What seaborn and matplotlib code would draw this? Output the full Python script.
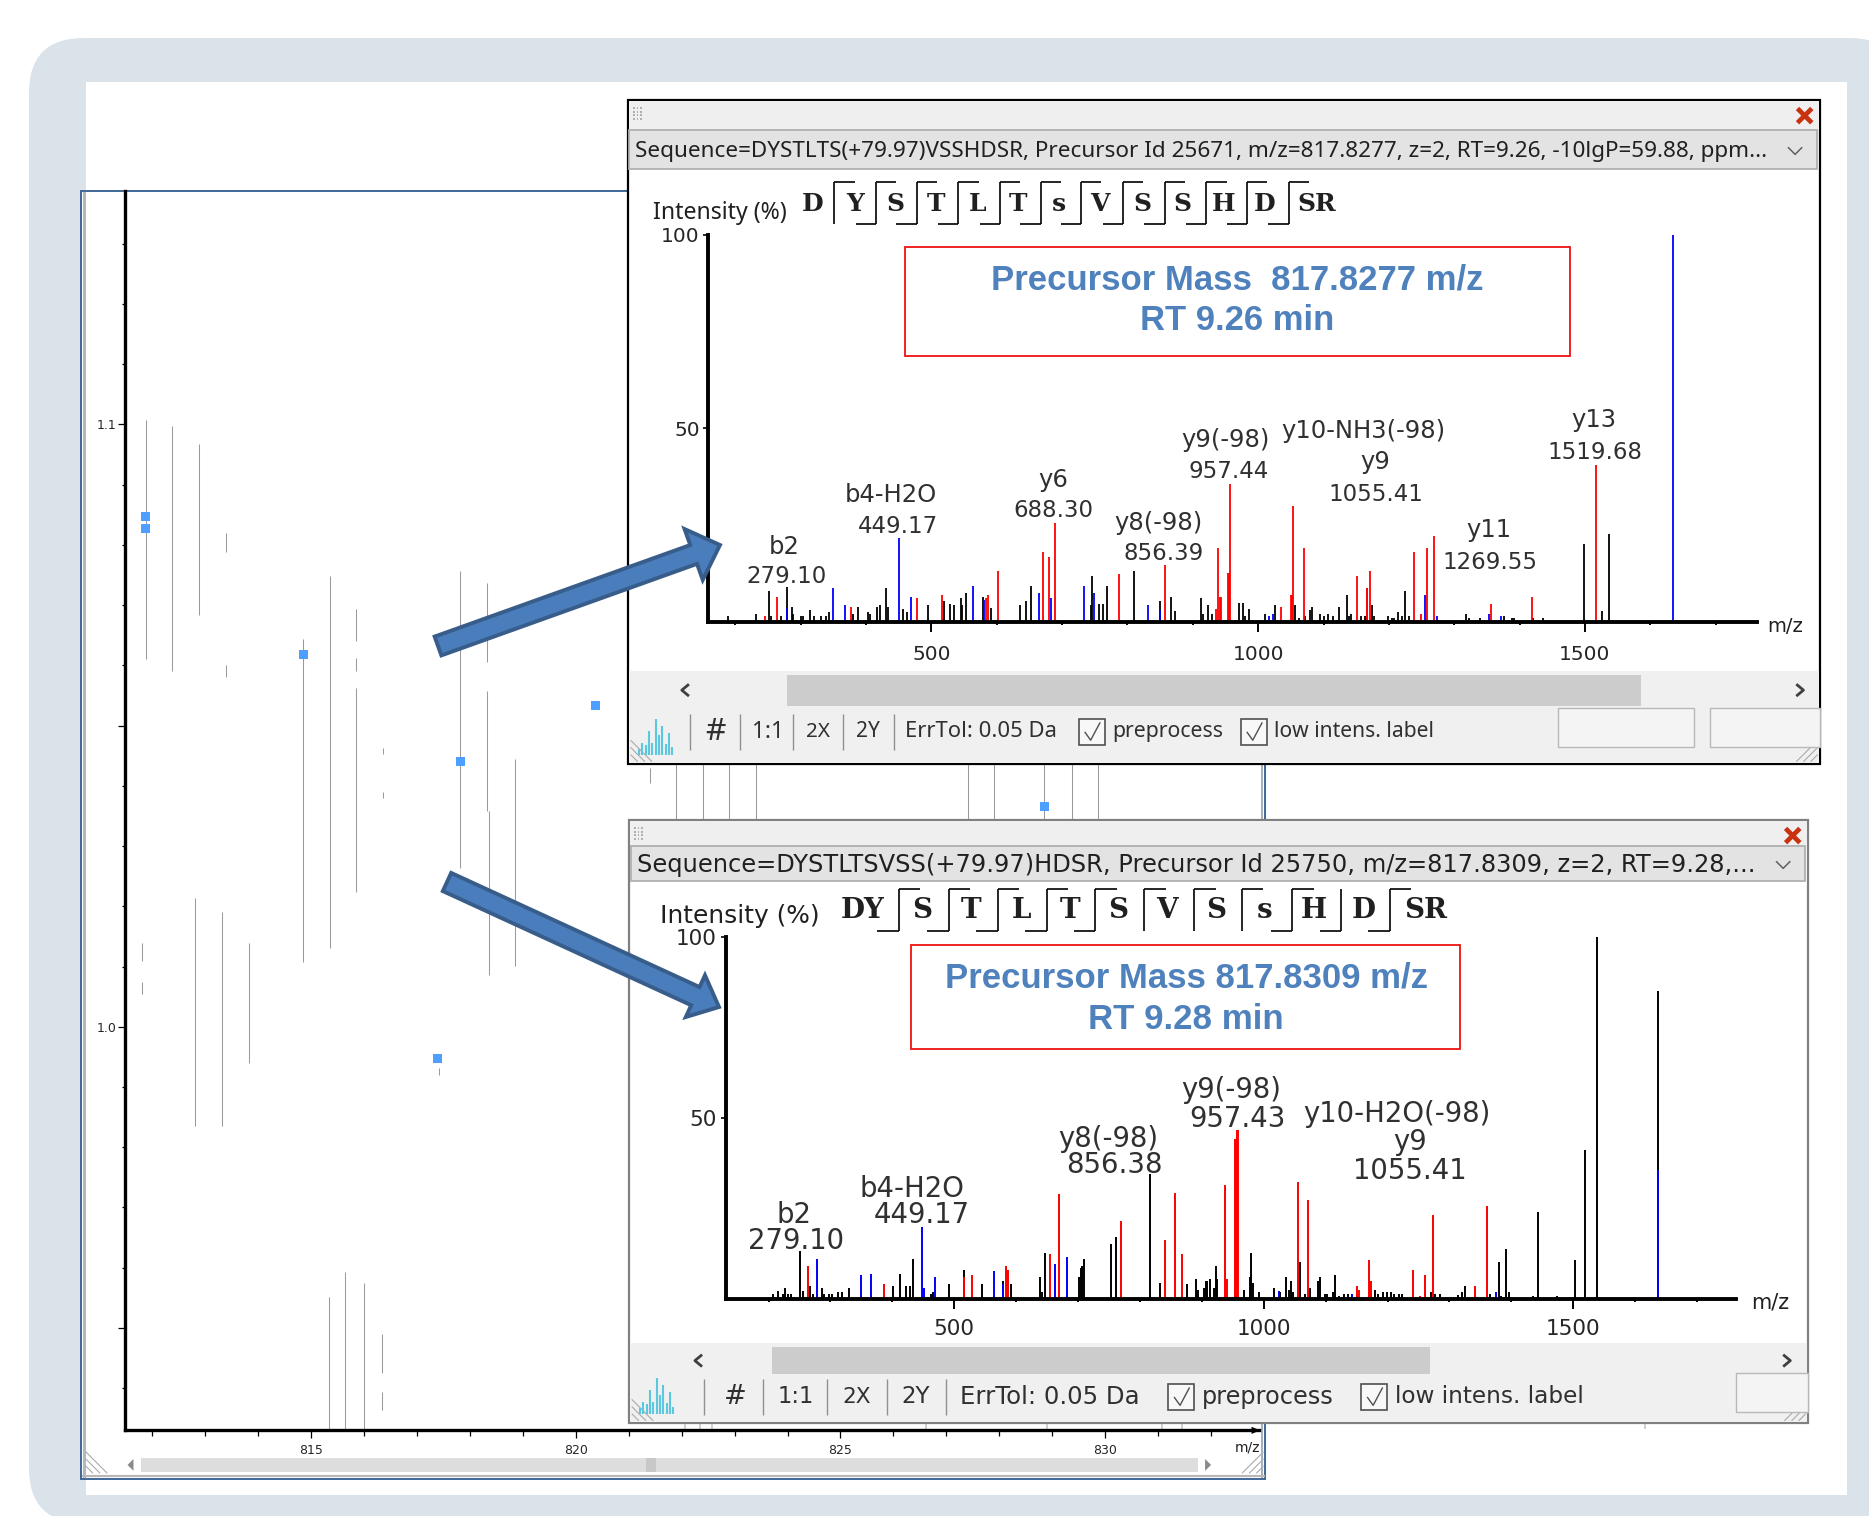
import matplotlib
matplotlib.use("Agg")
import matplotlib.pyplot as plt
from matplotlib.patches import FancyBboxPatch, FancyArrow, Polygon, Rectangle
import seaborn as sns

W, H = 1869, 1516
K = W / 1568  # layout below was measured on a 1568 wide view

# LC-MS map, segments and MS/MS squares
map_mz = [811.88, 812.38, 812.89, 813.39, 813.39, 814.85, 815.36, 815.85, 815.85, 815.85, 816.36, 816.36,
          817.82, 818.32, 818.32, 818.36, 818.86, 811.81, 811.81, 812.81, 813.32, 813.82, 817.42,
          815.34, 815.65, 816.0, 816.34, 816.34, 821.4, 821.9, 822.4, 822.9, 823.4,
          827.4, 827.9, 828.85, 829.37, 829.87]
map_k_high = [1.1008, 1.0997, 1.0967, 1.082, 1.06, 1.0643, 1.0748, 1.0694, 1.0612, 1.0562, 1.0463, 1.039,
              1.0757, 1.0737, 1.0558, 1.0359, 1.0444, 1.0139, 1.0074, 1.0213, 1.0191, 1.0139, 0.9932,
              0.9552, 0.9593, 0.9575, 0.949, 0.9393, 1.0430, 1.0437, 1.0437, 1.0437, 1.0437,
              1.0437, 1.0437, 1.0437, 1.0437, 1.0437]
map_k_low = [1.0611, 1.059, 1.0684, 1.0789, 1.058, 1.0108, 1.013, 1.0640, 1.0590, 1.0224, 1.0453, 1.038,
             1.0264, 1.0606, 1.0359, 1.0086, 1.0101, 1.011, 1.0055, 0.9836, 0.9836, 0.994, 0.992,
             0.933, 0.933, 0.933, 0.9425, 0.9363, 1.0405, 1.0340, 1.0340, 1.0340, 1.0340,
             1.0340, 1.0340, 1.0340, 1.0340, 1.0340]
ms2_mz = [811.88, 811.88, 814.85, 817.82, 820.38, 817.39, 828.85]
ms2_k = [1.0847, 1.0828, 1.0618, 1.044, 1.0533, 0.9947, 1.0365]

# upper spectrum
top_black_mz = [188.5, 232, 251.4, 254, 269.4, 279.8, 286, 289, 300, 303, 313.7, 320.8, 330.6, 338, 344, 380, 387,
                403, 406, 417, 421, 431, 434, 456, 462, 494.5, 519, 528.4, 535, 544.8, 547, 553.6, 579, 591,
                636, 645, 652, 743.5, 746.4, 756, 763, 768.3, 809.8, 850, 866, 872.7, 913, 916, 923, 929,
                970, 976.5, 980, 986, 1010, 1025, 1057, 1063, 1072, 1079, 1082, 1095, 1101, 1107, 1114, 1123,
                1135.5, 1139, 1142, 1158, 1164, 1173.8, 1177, 1198, 1204, 1208, 1214, 1220, 1224, 1230,
                1318.6, 1322, 1340, 1376, 1388, 1391, 1420, 1435.5, 1498.4, 1526.8, 1536]
top_black_h = [1.5, 2, 8, 1.5, 1.5, 9, 3.7, 2, 1.5, 1.5, 3, 1.5, 1.5, 1.5, 2.5, 2, 3.7,
               2.5, 2, 3.7, 4.3, 8.6, 3.7, 3.2, 2.5, 4.2, 5.4, 4.7, 4.2, 6, 4.2, 7.5, 6.5, 3.5,
               4.2, 5.4, 9.2, 4.2, 11.9, 4.7, 4.7, 9.2, 13, 5.4, 6.5, 2.7, 6, 2, 4.2, 2,
               4.9, 4.9, 1.5, 3.2, 2, 4.2, 4.2, 1, 1.5, 3, 3.7, 2, 1.5, 2, 1.5, 3.7,
               7, 1.5, 2, 1.5, 1.5, 4.2, 1.5, 1.5, 1, 1, 2.5, 1.5, 8, 1.5,
               2, 1, 1, 1.5, 1, 1, 1, 1, 20, 2.7, 22.8]
top_red_mz = [245, 264, 377.6, 478, 516.4, 583, 586, 601.6, 670.5, 680, 689.6, 787.4, 856.8, 935.5, 938.3,
              941.5, 942.5, 954, 955, 957.4, 1035, 1050, 1051, 1053.6, 1069.4, 1151.4, 1166, 1167, 1170.5,
              1239, 1249, 1258.5, 1268.3, 1356, 1419.7, 1517.5]
top_red_h = [1.5, 6.5, 3.7, 6, 6.9, 6, 7, 13, 18, 16.8, 25.4, 12.4, 14.6, 3.2, 19,
             6.5, 6.5, 12.5, 12.5, 35.6, 3.7, 6.9, 6.9, 29.8, 19, 11.9, 8.6, 8.6, 13,
             18, 2, 19, 22.2, 4.7, 6.5, 40.5]
top_blue_mz = [279.8, 349, 368.3, 450.3, 469, 563.4, 580, 664, 683.6, 733.9, 749, 831.7, 850,
               1016, 1023, 1255.7, 1274, 1353, 1372, 1634]
top_blue_h = [3.5, 8.6, 4.3, 21.7, 6.5, 9.2, 5.5, 7.5, 6, 9.2, 7.5, 4.2, 3,
              1.5, 2, 7, 1.5, 2, 1.5, 100]
top_labels = [("b2", 658, 457), ("279.10", 660, 482), ("b4-H2O", 747, 414), ("449.17", 753, 440),
              ("y6", 884, 401), ("688.30", 884, 427), ("y9(-98)", 1028, 368), ("957.44", 1031, 394),
              ("y10-NH3(-98)", 1144, 360), ("y9", 1154, 386), ("1055.41", 1154, 413), ("y8(-98)", 972, 437),
              ("856.39", 976, 463), ("y11", 1249, 443), ("1269.55", 1250, 470), ("y13", 1337, 351),
              ("1519.68", 1338, 378)]

# lower spectrum
bot_black_mz = [207, 215.5, 224, 227, 231, 237, 251.3, 255, 267, 272, 286.5, 290, 298, 303, 312, 318, 329.8,
                401, 413, 421.5, 429, 433, 462, 466, 492, 515.6, 544, 579, 591.7, 638.5, 642, 646.6,
                701.4, 705.4, 707, 708.9, 753.3, 760.8, 816.8, 832.4, 875.7, 891, 894, 903, 906, 909, 913,
                920, 923, 925, 953, 968, 978, 980, 983, 992.5, 1016, 1027, 1036, 1043.6, 1040, 1048,
                1059, 1067, 1075, 1088, 1091, 1099, 1103, 1112, 1115, 1122, 1130, 1136, 1180, 1185, 1192,
                1199, 1206, 1211, 1219, 1224, 1270, 1276, 1284, 1314, 1320, 1324.7, 1365, 1379.6, 1384, 1392,
                1396, 1435, 1443, 1474, 1502.4, 1518.6, 1538, 1637]
bot_black_h = [1.2, 2, 1.4, 2.9, 1.4, 1.2, 13.2, 2, 3.4, 1.4, 2.9, 1.4, 1.4, 1.4, 1.8, 1.8, 2.9,
               3.4, 6.9, 3.4, 3.4, 11, 1.4, 1.8, 3.9, 8, 3.9, 4.8, 3.9, 6, 1.8, 12.6,
               6, 8.5, 9, 11, 15.2, 16.9, 34.4, 4.4, 3.9, 5.4, 2.3, 2.9, 4.9, 4.9, 5.4,
               2.9, 9, 5.5, 2.3, 2.3, 6, 12.6, 4.4, 1.8, 2.9, 1.8, 6, 4.9, 2.3, 1.8,
               10.1, 1.4, 2.9, 4.9, 6, 1.4, 1.4, 1.8, 6.5, 0.8, 1.2, 1.2, 2.3, 1.2, 1.8,
               1.8, 1.8, 1.4, 1.4, 1.2, 1.8, 1.2, 1.2, 1, 1.8, 3.4, 1.4, 10.1, 0.8, 13.7,
               1.8, 0.8, 24, 0.8, 10.6, 41.2, 100, 85]
bot_red_mz = [263.4, 385.7, 515.6, 528, 583, 585.5, 586.6, 654, 669.6, 769.5, 840.5, 856, 867.6, 938, 940.8,
              954.2, 955, 957, 958, 1056, 1055, 1071.6, 1150, 1154, 1170.7, 1172, 1174, 1241.8, 1253, 1261, 1273,
              1341, 1360]
bot_red_h = [9, 3.9, 6, 6.5, 9, 8, 8, 12.2, 28.8, 21.5, 16.3, 29.2, 12.2, 31.3, 5.5,
             44, 44, 46.5, 46.5, 32.3, 7, 27.2, 3.4, 2.3, 10.6, 5, 4.9, 8, 0.8, 6.5, 23,
             3.4, 25.6]
bot_blue_mz = [279, 349.4, 365.5, 448.6, 451, 469, 564, 579, 662, 681.8, 1024, 1143, 1376, 1637]
bot_blue_h = [11, 6.5, 6.9, 19.8, 2.9, 6, 7.5, 4, 9.5, 11.6, 2, 1.2, 1.8, 35.5]
bot_labels = [("b2", 666, 1018), ("279.10", 668, 1040), ("b4-H2O", 765, 996), ("449.17", 773, 1018),
              ("y8(-98)", 930, 954), ("856.38", 935, 976), ("y9(-98)", 1033, 913), ("957.43", 1038, 937),
              ("y10-H2O(-98)", 1172, 933), ("y9", 1183, 957), ("1055.41", 1183, 981)]

# fragment ladders
top_letters = ["D", "Y", "S", "T", "L", "T", "s", "V", "S", "S", "H", "D", "SR"]
top_letter_x = [682, 717, 751, 785, 820, 854, 888, 923, 958, 992, 1027, 1061, 1105]
top_cuts = [700, 735, 769, 804, 839, 873, 907, 942, 977, 1012, 1046, 1081]
bot_letters = ["DY", "S", "T", "L", "T", "S", "V", "S", "s", "H", "D", "SR"]
bot_letter_x = [724, 774, 815, 857, 898, 938, 979, 1020, 1061, 1102, 1144, 1196]
bot_cuts = [754, 796, 837, 878, 919, 960, 1002, 1042, 1084, 1125, 1166]
bot_no_top = [1125]
bot_no_low = [960, 1002, 1042]

icon_heights = [5, 10, 8, 20, 10, 30, 16, 24, 9, 18, 6]
under_marks = [575, 587, 597, 777, 878, 975, 992, 1380]

sns.set_theme(style="white")
plt.rcParams["font.family"] = ["DejaVu Sans"]
UI = "Noto Sans"
SERIF = "DejaVu Serif"
BLUE_TXT = "#4F81BD"
PEAKS = sns.color_palette(["#000000", "#FF0000", "#0000FF"])

fig = plt.figure(figsize=(W / 100, H / 100), dpi=100, facecolor="white")
renderer = fig.canvas.get_renderer()


def overlay(z):
    ax = fig.add_axes([0, 0, 1, 1], zorder=z)
    ax.set_xlim(0, W)
    ax.set_ylim(H, 0)
    ax.axis("off")
    ax.patch.set_alpha(0)
    return ax


def data_axes(l, t, r, b, z):
    return fig.add_axes([l / W, 1 - b / H, (r - l) / W, (b - t) / H], zorder=z, facecolor="none")


def put(ax, x, y, s, width=None, size=12, ha="center", family=None, **kw):
    # width is in view pixels, font size gets scaled to hit it
    t = ax.text(x * K, (y + 1.5) * K, s, ha=ha, va="center", fontsize=size, family=family or "DejaVu Sans", **kw)
    if width:
        w = t.get_window_extent(renderer).width
        t.set_fontsize(size * width * K / w)
    return t


def box(ax, x0, y0, x1, y1, fc="none", ec="none", lw=1.0, z=1):
    ax.add_patch(Rectangle((x0 * K, y0 * K), (x1 - x0) * K, (y1 - y0) * K, fc=fc, ec=ec, lw=lw, zorder=z))


def line(ax, xs, ys, color="black", lw=1.0, z=3):
    ax.plot([v * K for v in xs], [v * K for v in ys], color=color, lw=lw, zorder=z, solid_capstyle="butt")


def grip(ax, x, y, n=3, color="#AAAAAA", flip=False):
    for i in range(n):
        d = 6 + i * 6
        if flip:
            line(ax, [x - d, x], [y, y - d], color=color, lw=0.8)
        else:
            line(ax, [x, x + d], [y - d, y], color=color, lw=0.8)


def window(ax, x0, y0, x1, y1, edge, title, title_w, bar, toolbar, buttons, family):
    box(ax, x0, y0, x1, y1, fc="white", ec=edge, lw=1.6, z=1)
    box(ax, x0 + 1, y0 + 1, x1 - 1, bar[0], fc="#EFEFEF", z=2)
    box(ax, x0 + 1, bar[0], x1 - 3, bar[1], fc="#E3E3E3", ec="#B0B0B0", lw=1.3, z=2)
    put(ax, x0 + 6, (bar[0] + bar[1]) / 2, title, width=title_w, size=13, ha="left", family=family, color="#202020", zorder=4)
    for i in range(4):
        for j in range(3):
            box(ax, x0 + 4 + j * 3, y0 + 6 + i * 3, x0 + 5.5 + j * 3, y0 + 7.5 + i * 3, fc="#B0B0B0", z=3)
    # red close cross
    cx, cy = x1 - 13, y0 + 13
    line(ax, [cx - 6, cx + 6], [cy - 6, cy + 6], color="#C8320F", lw=3.4)
    line(ax, [cx - 6, cx + 6], [cy + 6, cy - 6], color="#C8320F", lw=3.4)
    # combo chevron
    mx, my = x1 - 21, (bar[0] + bar[1]) / 2 + 1
    line(ax, [mx - 6, mx, mx + 6], [my - 3, my + 3, my - 3], color="#606060", lw=1.1, z=4)
    # scroll strip and toolbar
    sy0, sy1, tx0, tx1 = toolbar["scroll"]
    box(ax, x0 + 1, sy0 - 3, x1 - 1, y1 - 1, fc="#F0F0F0", z=2)
    box(ax, tx0, sy0, tx1, sy1, fc="#CCCCCC", z=3)
    my = (sy0 + sy1) / 2
    line(ax, [toolbar["left"] + 3, toolbar["left"] - 3, toolbar["left"] + 3], [my - 5, my, my + 5], color="#404040", lw=2.0, z=4)
    line(ax, [toolbar["right"] - 3, toolbar["right"] + 3, toolbar["right"] - 3], [my - 5, my, my + 5], color="#404040", lw=2.0, z=4)
    ty = toolbar["y"]
    for sx in toolbar["seps"]:
        line(ax, [sx, sx], [ty - 15, ty + 15], color="#909090", lw=1.0, z=4)
    for s, cx_, w in toolbar["items"]:
        put(ax, cx_, ty - 1.5, s, width=w, size=12, family=family, color="#303030", zorder=4)
    for bx, w, s in toolbar["checks"]:
        box(ax, bx, ty - 11, bx + 22, ty + 11, fc="#F8F8F8", ec="#505050", lw=1.2, z=4)
        line(ax, [bx + 5, bx + 10, bx + 18], [ty, ty + 7, ty - 8], color="#505050", lw=1.0, z=5)
        put(ax, bx + 28, ty - 1.5, s, width=w, size=12, ha="left", family=family, color="#303030", zorder=4)
    for b0, b1 in buttons:
        box(ax, b0, ty - 20, b1, ty + 13, fc="#F4F4F4", ec="#B8B8B8", lw=1.0, z=4)
    base = y1 - 8
    ix = x0 + 9
    for i, h in enumerate(icon_heights):
        line(ax, [ix + i * 2.8, ix + i * 2.8], [base, base - h], color="#5CC8E0", lw=1.5, z=4)
    grip(ax, x0 + 2, y1 - 2, n=3)
    grip(ax, x1 - 2, y1 - 2, n=3, flip=True)


def spectrum(rect, xlim, black, red, blue, lw, label_size, xpad, ypad):
    ax = data_axes(*rect, z=3)
    for (xs, ys), c in zip([black, red, blue], PEAKS):
        ax.vlines(xs, 0, ys, color=c, lw=lw, clip_on=False, zorder=2)
    ax.set_xlim(*xlim)
    ax.set_ylim(0, 100)
    ax.set_xticks([500, 1000, 1500])
    ax.set_xticks(list(range(200, 1800, 100)), minor=True)
    ax.set_yticks([50, 100])
    ax.tick_params(axis="x", which="major", length=7.5, width=1.4, pad=xpad, labelsize=label_size, bottom=True, color="black")
    ax.tick_params(axis="x", which="minor", length=2.5, width=1.4, bottom=True, color="black")
    ax.tick_params(axis="y", length=3.5, width=1.2, pad=ypad, labelsize=label_size, left=True, color="black")
    sns.despine(ax=ax)
    for side in ("left", "bottom"):
        ax.spines[side].set_linewidth(2.8)
        ax.spines[side].set_color("black")
    ax.grid(False)
    return ax


def ladder(ax, letters, letter_x, cuts, y, y0, y1, width, no_top=(), no_low=(), first_low=True, fs=20):
    for s, x in zip(letters, letter_x):
        put(ax, x, y, s, size=fs, family=SERIF, fontweight="bold", color="#202020", zorder=4)
    for i, x in enumerate(cuts):
        line(ax, [x, x], [y0, y1], lw=1.2, z=4)
        if x not in no_top:
            line(ax, [x, x + width], [y0, y0], lw=1.2, z=4)
        if x not in no_low and (first_low or i > 0):
            line(ax, [x - width, x], [y1, y1], lw=1.2, z=4)


# background panel
back = overlay(0)
back.add_patch(FancyBboxPatch((29, 38), 1904 - 29, 1523 - 38, boxstyle="round,pad=0,rounding_size=55", fc="#DAE2EA", ec="none"))
back.add_patch(Rectangle((86, 82), 1847 - 86, 1495 - 82, fc="white", ec="none", zorder=2))
# LC-MS window frame
box(back, 68, 160, 1061, 1241, fc="white", ec="#3F6797", lw=1.4, z=3)
box(back, 69.5, 161, 72, 1240, fc="#B0B8C0", z=4)
box(back, 1058, 161, 1060, 1240, fc="#A8B0B8", z=4)
box(back, 118, 1223, 1005, 1235, fc="#DDDDDD", z=4)
box(back, 542, 1223, 550, 1235, fc="#C8C8C8", z=4)
back.add_patch(Polygon([(112 * K, 1224 * K), (107 * K, 1229 * K), (112 * K, 1234 * K)], fc="#8A8A8A", ec="none", zorder=5))
back.add_patch(Polygon([(1011 * K, 1224 * K), (1016 * K, 1229 * K), (1011 * K, 1234 * K)], fc="#8A8A8A", ec="none", zorder=5))
back.add_patch(Polygon([(1050 * K, 1197 * K), (1057 * K, 1200 * K), (1050 * K, 1203 * K)], fc="black", ec="none", zorder=6))
line(back, [69, 1061], [1238.5, 1238.5], color="#B8B8B8", lw=1.6, z=4)
grip(back, 72, 1236, n=3)
grip(back, 1060, 1236, n=3, flip=True)
put(back, 1047, 1213, "m/z", size=10, color="#202020", zorder=6)

# LC-MS map
lc = data_axes(105 * K, 160 * K, 1056 * K, 1200 * K, z=1)
lc.vlines(map_mz, map_k_low, map_k_high, color="#9A9A9A", lw=0.75)
sns.scatterplot(x=ms2_mz, y=ms2_k, marker="s", s=42, color="#4DA0FF", edgecolor="none", ax=lc, zorder=3)
lc.set_xlim(811.49, 832.9)
lc.set_ylim(0.933, 1.1388)
lc.set_xticks([815, 820, 825, 830])
lc.set_xticks(list(range(812, 833)), minor=True)
lc.set_yticks([0.95, 1.0, 1.05, 1.1], ["", "1.0", "", "1.1"])
lc.set_yticks([0.94 + i * 0.01 for i in range(20)], minor=True)
lc.tick_params(axis="x", which="major", length=6, width=0.9, pad=4, labelsize=9, bottom=True, color="black")
lc.tick_params(axis="x", which="minor", length=4, width=0.9, bottom=True, color="black")
lc.tick_params(axis="y", which="major", length=5, width=0.9, pad=1, labelsize=9, left=True, color="black")
lc.tick_params(axis="y", which="minor", length=2, width=0.9, left=True, color="black")
sns.despine(ax=lc)
for side in ("left", "bottom"):
    lc.spines[side].set_linewidth(2.4)
    lc.spines[side].set_color("black")
lc.grid(False)

# spectrum windows
chrome = overlay(2)
window(chrome, 527, 84, 1527, 641, "black",
       "Sequence=DYSTLTS(+79.97)VSSHDSR, Precursor Id 25671, m/z=817.8277, z=2, RT=9.26, -10lgP=59.88, ppm...", 951,
       (109, 142),
       {"scroll": (566, 592, 660, 1377), "left": 575, "right": 1510, "y": 614,
        "seps": [579, 621, 665, 707, 750],
        "items": [("#", 600, 17), ("1:1", 644, 27), ("2X", 686, 20), ("2Y", 728, 20), ("ErrTol: 0.05 Da", 823, 127)],
        "checks": [(905, 93, "preprocess"), (1041, 134, "low intens. label")]},
       [(1307, 1421), (1435, 1527)], UI)
window(chrome, 528, 688, 1517, 1194, "#808080",
       "Sequence=DYSTLTSVSS(+79.97)HDSR, Precursor Id 25750, m/z=817.8309, z=2, RT=9.28,...", 934,
       (710, 739),
       {"scroll": (1130, 1153, 648, 1200), "left": 586, "right": 1499, "y": 1172,
        "seps": [591, 640, 694, 744, 794],
        "items": [("#", 617, 19), ("1:1", 668, 31), ("2X", 719, 24), ("2Y", 768, 24), ("ErrTol: 0.05 Da", 881, 150)],
        "checks": [(980, 110, "preprocess"), (1142, 158, "low intens. label")]},
       [(1456, 1517)], "DejaVu Sans")
for ux in under_marks:
    line(back, [ux, ux], [1195, 1199], color="#C8C8C8", lw=1.2, z=6)

top_ax = spectrum((708, 235, 1757, 621.7), (158.2, 1763.2), (top_black_mz, top_black_h), (top_red_mz, top_red_h),
                  (top_blue_mz, top_blue_h), 1.3, 14.5, 9, 2.5)
bot_ax = spectrum((726, 937, 1736, 1298.6), (131.2, 1763), (bot_black_mz, bot_black_h), (bot_red_mz, bot_red_h),
                  (bot_blue_mz, bot_blue_h), 1.4, 15.5, 7, 3)

# everything on top of the spectra
front = overlay(4)
put(front, 604, 177, "Intensity (%)", width=113, size=13, family=UI, color="#202020")
put(front, 621, 767, "Intensity (%)", width=133, size=13, color="#202020")
ladder(front, top_letters, top_letter_x, top_cuts, 170, 153, 188, 17, first_low=False, fs=18)
ladder(front, bot_letters, bot_letter_x, bot_cuts, 762, 746, 781, 18, no_top=bot_no_top, no_low=bot_no_low, fs=20)
put(front, 1498, 524, "m/z", size=14, color="#202020")
put(front, 1485, 1091, "m/z", size=15, color="#202020")

box(front, 759, 207, 1317, 299, ec="#EE1111", lw=1.3)
box(front, 764, 793, 1225, 880, ec="#EE1111", lw=1.3)
put(front, 1038, 233, "Precursor Mass  817.8277 m/z", width=413, size=22, family="Liberation Sans", fontweight="bold", color=BLUE_TXT)
put(front, 1038, 267, "RT 9.26 min", width=163, size=22, family="Liberation Sans", fontweight="bold", color=BLUE_TXT)
put(front, 995, 819, "Precursor Mass 817.8309 m/z", width=405, size=22, family="Liberation Sans", fontweight="bold", color=BLUE_TXT)
put(front, 995, 854, "RT 9.28 min", width=164, size=22, family="Liberation Sans", fontweight="bold", color=BLUE_TXT)

for s, x, y in top_labels:
    put(front, x, y, s, size=16.5 if s[0].isdigit() else 17.5, color="#303030")
for s, x, y in bot_labels:
    put(front, x, y, s, size=19.8, color="#303030")

front.add_patch(FancyArrow(438, 646, 282, -101, width=20, head_width=54, head_length=28, length_includes_head=True,
                           fc="#4A7DBB", ec="#385D8A", lw=2.8, zorder=8))
front.add_patch(FancyArrow(447, 882, 272, 125, width=20, head_width=46, head_length=26, length_includes_head=True,
                           fc="#4A7DBB", ec="#385D8A", lw=2.8, zorder=8))

fig.savefig("out.png", dpi=100)
